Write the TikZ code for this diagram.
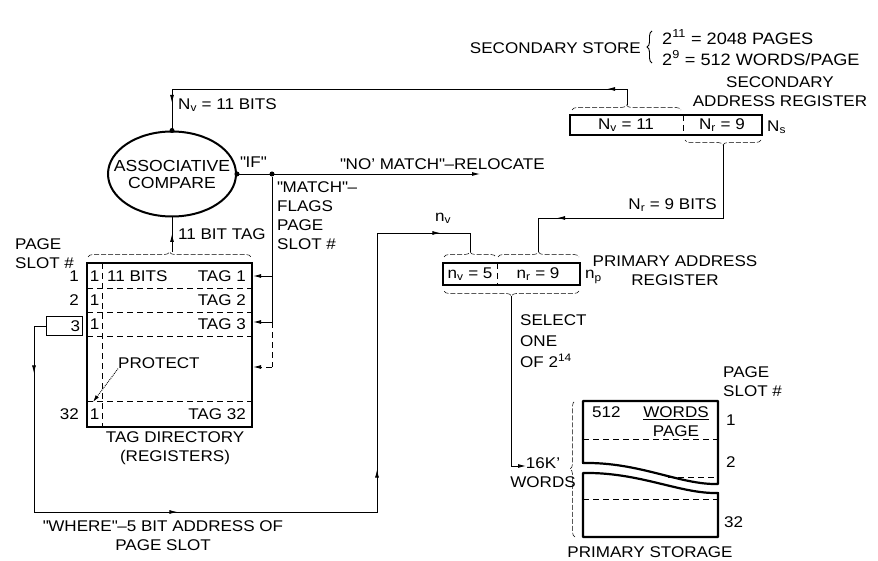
\documentclass[tikz,border=0pt]{standalone}
\usepackage{fontspec}
\setmainfont[FakeStretch=1.1]{Liberation Sans}
\usetikzlibrary{shapes.geometric, decorations.pathreplacing, decorations.markings, arrows.meta}
\newcommand{\dquote}{\textquotedbl}

\tikzset{
  lbl/.style={font=\fontsize{15.5}{19}\selectfont, inner sep=0pt},
  wire/.style={line width=0.9pt},
  heavy/.style={line width=2.2pt},
  cut/.style={line width=0.9pt, dash pattern=on 6pt off 4pt},
  brc/.style={decorate, decoration={brace, amplitude=5pt}, line width=0.5pt, dash pattern=on 5pt off 2pt},
  arr/.style={-{Latex[length=8pt, width=4pt]}},
  arrat/.style={postaction={decorate, decoration={markings, mark=at position #1 with {\arrow{Latex[length=8pt, width=4pt]}}}}},
  joint/.style={circle, fill, inner sep=0pt, minimum size=5pt},
}

\begin{document}
\begin{tikzpicture}[x=1pt, y=-1pt]
  \useasboundingbox (0,0) rectangle (878,561);

  % secondary store note
  \node[lbl, anchor=east] (ss) at (641,48) {SECONDARY STORE};
  \draw[wire, decorate, decoration={brace, amplitude=5pt}] (652,63) -- (652,31);
  \node[lbl, anchor=west, font=\fontsize{16.5}{19}\selectfont] (s11) at (662,37) {2\textsuperscript{11} = 2048 PAGES};
  \node[lbl, anchor=west, font=\fontsize{16.5}{19}\selectfont] (s9) at (662,58) {2\textsuperscript{9} = 512 WORDS/PAGE};

  % secondary address register
  \node[draw, heavy, minimum width=192, minimum height=20, inner sep=0pt] (sar) at (666,125) {};
  \draw[cut] (683,115) -- (683,135);
  \node[lbl] (snvl) at (626,125) {N\textsubscript{v} = 11};
  \node[lbl] (snrl) at (722,125) {N\textsubscript{r} = 9};
  \node[lbl, anchor=west] (ns) at (767,127) {N\textsubscript{s}};
  \node[lbl, align=center] (sarl) at (780,92) {SECONDARY\\ADDRESS REGISTER};
  \draw[brc] (572,110) -- (681,110);
  \draw[brc] (761,140) -- (685,140);
  \coordinate (snv) at (627,105);
  \coordinate (topr) at (627,89);
  \coordinate (snr) at (723,145);
  \coordinate (nrb) at (723,218);

  % associative compare
  \node[ellipse, draw, line width=2pt, minimum width=128, minimum height=85, inner sep=0pt] (ac) at (172,174) {};
  \node[font=\fontsize{16}{17}\selectfont, inner sep=0pt, align=center] (act) at (ac) {ASSOCIATIVE\\COMPARE};
  \draw[wire, arrat=36pt, arrat=485pt] (snv) -- (topr) -| (ac.north);
  \node[lbl, anchor=west] (nvbits) at (178,105) {N\textsubscript{v} = 11 BITS};
  \node[joint] (jn) at (ac.north) {};
  \node[joint] (je) at (ac.east) {};
  \node[joint] (ifpt) at (272,174) {};
  \node[lbl, anchor=south west] (ifl) at (240,168) {\dquote IF\dquote};
  \coordinate (relo) at (480,174);
  \draw[wire, arr] (ac.east) -- (relo);
  \node[lbl, anchor=south west] (nomatch) at (340,170) {\dquote NO' MATCH\dquote--RELOCATE};
  \node[lbl, anchor=north west, align=left] (match) at (277,181) {\dquote MATCH\dquote--\\FLAGS\\PAGE\\SLOT \#};

  % tag directory
  \node[draw, heavy, minimum width=165, minimum height=164, inner sep=0pt] (td) at (169.5,345) {};
  \draw[cut] (102,263) -- (102,427);
  \foreach \y in {288,312,336,401} \draw[cut] (87,\y) -- (252,\y);
  \foreach \y/\n in {276/p1, 300/p2, 324/p3, 414/p32} \node[lbl] (\n) at (94.5,\y) {1};
  \foreach \y/\t/\n in {276/1/r1, 300/2/r2, 414/32/r32} \node[lbl, anchor=east] (\n) at (79,\y) {\t};
  \node[draw, wire, lbl, minimum width=36, minimum height=19, text width=32, align=right] (s3) at (64,326) {3};
  \node[lbl, anchor=west] (bits) at (107,276) {11 BITS};
  \foreach \y/\t/\n in {276/1/t1, 300/2/t2, 324/3/t3, 414/32/t32} \node[lbl, anchor=east] (\n) at (246,\y) {TAG \t};
  \node[lbl, anchor=west] (prot) at (118,363) {PROTECT};
  \draw[wire, densely dotted, -{Latex[length=7pt, width=4pt]}] (prot.south west) -- (93,402);
  \node[lbl, anchor=west, align=left] (slot) at (15,254) {PAGE\\SLOT \#};
  \node[lbl, align=center] (tdl) at (175,448) {TAG DIRECTORY\\(REGISTERS)};

  % tag to compare
  \draw[brc] (88,257) -- (251,257);
  \coordinate (tagtip) at (172,252);
  \draw[wire, arrat=18pt] (tagtip) -- (ac.south);
  \node[lbl, anchor=west] (tagl) at (178,234) {11 BIT TAG};

  % match flags
  \coordinate (m1) at (272,276);
  \coordinate (m3) at (272,322);
  \coordinate (m4) at (272,367);
  \draw[wire] (ifpt) -- (m3);
  \draw[cut] (m3) -- (m4);
  \draw[wire, arr] (m1) -- (m1 -| td.east);
  \draw[wire, arr] (m3) -- (m3 -| td.east);
  \draw[cut, arr] (m4) -- (m4 -| td.east);

  % primary address register
  \node[draw, heavy, minimum width=137, minimum height=22, inner sep=0pt] (par) at (511.5,274) {};
  \draw[cut] (497,263) -- (497,285);
  \node[lbl] (pnvl) at (470,274) {n\textsubscript{v} = 5};
  \node[lbl] (pnrl) at (538,274) {n\textsubscript{r} = 9};
  \node[lbl, anchor=west] (np) at (585,277) {n\textsubscript{p}};
  \node[lbl, align=center] (parl) at (675,271) {PRIMARY ADDRESS\\REGISTER};
  \draw[brc] (444,257) -- (496,257);
  \draw[brc] (498,257) -- (579,257);
  \draw[brc] (579,291) -- (444,291);
  \coordinate (nvtip) at (470,252);
  \coordinate (nrtip) at (538,252);
  \coordinate (seltip) at (511.5,296);

  % offset to primary
  \draw[wire, arrat=239pt] (snr) -- (nrb) -| (nrtip);
  \node[lbl, anchor=east] (nrbits) at (717,205) {N\textsubscript{r} = 9 BITS};

  % where path
  \coordinate (wb) at (34,512);
  \coordinate (wr) at (377,512);
  \coordinate (nvt) at (377,233);
  \draw[wire, arrat=59pt, arrat=341pt, arrat=583pt, arrat=883pt] (s3.west) -| (wb) -- (wr) -- (nvt) -| (nvtip);
  \node[lbl, align=center] (where) at (163,536) {\dquote WHERE\dquote--5 BIT ADDRESS OF\\PAGE SLOT};
  \node[lbl] (nvl) at (443,218) {n\textsubscript{v}};

  % select
  \coordinate (w16) at (526,466);
  \draw[wire, arr] (seltip) |- (w16);
  \node[lbl, anchor=north west, align=left, font=\fontsize{15.5}{21}\selectfont] (sel) at (520,314) {SELECT\\ONE\\OF 2\textsuperscript{14}};
  \node[lbl, align=center] (k16) at (543,473) {16K'\\WORDS};

  % primary storage
  \draw[heavy, line join=round] (583,463) -- (583,401) -- (718,401) -- (718,484)
    .. controls (680,485) and (640,462) .. (583,463) -- cycle;
  \draw[heavy, line join=round] (583,473) .. controls (640,472) and (680,494) .. (718,493)
    -- (718,537) -- (583,537) -- cycle;
  \draw[cut] (583,439) -- (718,439);
  \draw[cut] (668,477) -- (718,477);
  \draw[cut] (583,499) -- (718,499);
  \draw[brc] (575,537) -- (575,401);
  \node[lbl, anchor=west] (w512) at (592,412) {512};
  \node[lbl, align=center] (wpp) at (676,422) {\underline{WORDS}\\PAGE};
  \node[lbl, anchor=west, align=left] (pslot) at (723,382) {PAGE\\SLOT \#};
  \node[lbl, anchor=west] (q1) at (726,420) {1};
  \node[lbl, anchor=west] (q2) at (726,462) {2};
  \node[lbl, anchor=west] (q32) at (724,522) {32};
  \node[lbl] (psl) at (650,552) {PRIMARY STORAGE};
\end{tikzpicture}
\end{document}
